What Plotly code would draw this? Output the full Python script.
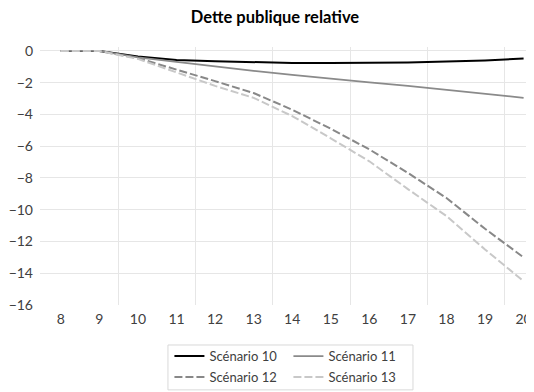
import plotly.graph_objects as go

years = [8, 9, 10, 11, 12, 13, 14, 15, 16, 17, 18, 19, 20]
scen10 = [0, 0, -0.35, -0.57, -0.65, -0.72, -0.75, -0.75, -0.75, -0.72, -0.67, -0.6, -0.48]
scen11 = [0, 0, -0.4, -0.69, -0.99, -1.25, -1.5, -1.75, -1.98, -2.2, -2.45, -2.7, -2.95]
scen12 = [0, 0, -0.45, -1.16, -1.9, -2.65, -3.7, -4.9, -6.2, -7.68, -9.26, -11.2, -13.0]
scen13 = [0, 0, -0.5, -1.36, -2.2, -2.95, -4.1, -5.5, -6.95, -8.7, -10.4, -12.5, -14.5]
names = ["Scénario 10", "Scénario 11", "Scénario 12", "Scénario 13"]
xticks = list(range(8, 21))
yticks = list(range(-16, 1, 2))
vgrid = [9.5, 11.5, 13.5, 15.5, 17.5, 19.5]

fig = go.Figure()
styles = [
    dict(color="#000000", width=2, dash="solid"),
    dict(color="#8a8a8a", width=1.8, dash="solid"),
    dict(color="#888888", width=2, dash="8px,3px"),
    dict(color="#c8c8c8", width=2, dash="8px,3px"),
]
legends = ["legend", "legend", "legend2", "legend2"]
for name, ys, st, lg in zip(names, [scen10, scen11, scen12, scen13], styles, legends):
    fig.add_trace(go.Scatter(x=years, y=ys, mode="lines", name=name, line=st, legend=lg))

leg_common = dict(orientation="h", xanchor="left", yanchor="middle",
                  bgcolor="rgba(0,0,0,0)", borderwidth=0, entrywidth=74,
                  font=dict(size=13, color="#404040"))
# the page body adds an 8px offset, so the figure is 8px smaller than the window
fig.update_layout(
    width=526, height=384,
    margin=dict(l=32, r=0, t=39, b=87, autoexpand=False),
    paper_bgcolor="white", plot_bgcolor="white",
    font=dict(family="Lato, 'Open Sans', sans-serif", size=14, color="#404040"),
    title=dict(text="<b>Dette publique relative</b>", x=0.5 + 4 / 526, xanchor="center",
               y=1 - 9.5 / 384, yanchor="middle", font=dict(size=16.5, color="#000000")),
    legend=dict(x=0.262, y=-0.198, **leg_common),
    legend2=dict(x=0.262, y=-0.279, **leg_common),
    showlegend=True,
    shapes=[dict(type="rect", xref="paper", yref="paper", x0=0.259, x1=0.755,
                 y0=-0.329, y1=-0.155, line=dict(color="#d9d9d9", width=1),
                 fillcolor="rgba(0,0,0,0)", layer="below")],
)
fig.update_xaxes(range=[7.46, 20.27], tickvals=xticks, showgrid=False, zeroline=False,
                 showline=False, ticks="", ticklabelstandoff=4, automargin=False,
                 minor=dict(tickvals=vgrid, showgrid=True, gridcolor="#e6e6e6", gridwidth=1))
fig.update_yaxes(range=[-16, 0.25], tickvals=yticks, showgrid=True, gridcolor="#e6e6e6",
                 zeroline=False, showline=False, ticks="", ticklabelstandoff=6, automargin=False)

fig.write_html("out.html")
